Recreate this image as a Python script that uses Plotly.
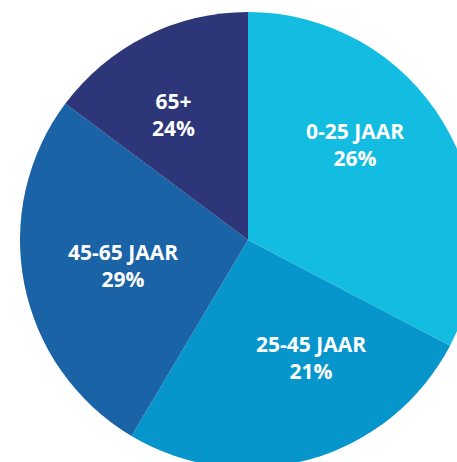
import plotly.graph_objects as go

# Data
categories = ["0-25 JAAR", "25-45 JAAR", "45-65 JAAR", "65+"]
slice_sizes = [32.7, 25.9, 26.7, 14.8]          # angular share of each slice as drawn
label_percent = ["26%", "21%", "29%", "24%"]     # percentages printed on the slices

# Styling / layout
colors = ["#12BDE1", "#0796CC", "#1A63A7", "#2D3679"]
W, H = 496, 480
label_px = [(355, 145), (311, 357), (123, 265), (173, 114)]  # label centres, pixels

fig = go.Figure(go.Pie(
    labels=categories,
    values=slice_sizes,
    textinfo="none",
    sort=False,
    direction="clockwise",
    rotation=0,
    marker=dict(colors=colors, line=dict(width=0)),
    domain=dict(x=[0, 1], y=[12 / H, 1 - 12 / H]),
    hoverinfo="label",
))

for cat, pct, (px, py) in zip(categories, label_percent, label_px):
    fig.add_annotation(
        x=px / W, y=1 - py / H, xref="paper", yref="paper",
        xanchor="center", yanchor="middle",
        text=f"{cat}<br>{pct}", showarrow=False, align="center",
        font=dict(family="Open Sans", size=21, color="white", weight="bold"),
    )

fig.update_layout(
    width=W, height=H,
    margin=dict(l=0, r=0, t=0, b=0),
    showlegend=False,
    paper_bgcolor="white",
    plot_bgcolor="white",
)

fig.write_html(
    "out.html",
    config={"displayModeBar": False},
    post_script="document.body.style.margin='0';document.body.style.overflow='hidden';document.documentElement.style.overflow='hidden';",
)
